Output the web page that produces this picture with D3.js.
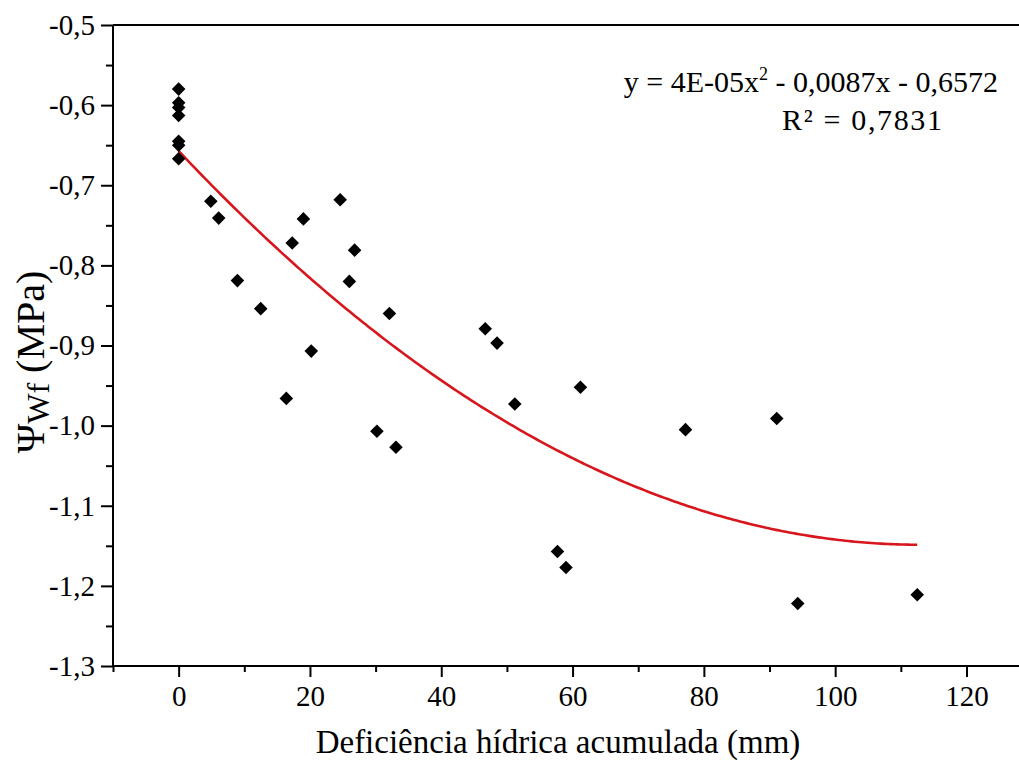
<!DOCTYPE html>
<html>
<head>
<meta charset="utf-8">
<script src="https://cdn.jsdelivr.net/npm/d3@7"></script>
<style>
  html, body { margin: 0; padding: 0; background: #fff; }
  svg { display: block; }
  text { font-family: "Liberation Serif", "Times New Roman", serif; fill: #000; }
</style>
</head>
<body>
<svg id="chart" width="1019" height="760"></svg>
<script>
// Data
const deficitX = [0, 0, 0, 0, 0, 0, 0, 4.9, 6.1, 8.95, 12.5, 16.4, 17.3, 19.0, 20.2,
  24.6, 26.0, 26.8, 30.2, 32.1, 33.1, 46.7, 48.5, 51.2, 57.7, 59.0, 61.2, 77.2, 91.1, 94.3, 112.5];
const psiY = [-0.580, -0.597, -0.603, -0.613, -0.645, -0.650, -0.667, -0.720, -0.741, -0.819, -0.854, -0.966, -0.772, -0.742, -0.907,
  -0.718, -0.820, -0.781, -1.007, -0.860, -1.027, -0.879, -0.897, -0.973, -1.157, -1.177, -0.952, -1.005, -0.991, -1.222, -1.211];

// Trend line coefficients (quadratic fit)
const fitCoef = { a: 0.0000385, b: -0.0087, c: -0.6572 };
const fitRange = [0, 112.5];

const xTicks = [0, 20, 40, 60, 80, 100, 120];
const xTickLabels = ["0", "20", "40", "60", "80", "100", "120"];
const xMinorTicks = [-10, 10, 30, 50, 70, 90, 110];
const yTicks = [-0.5, -0.6, -0.7, -0.8, -0.9, -1.0, -1.1, -1.2, -1.3];
const yTickLabels = ["-0,5", "-0,6", "-0,7", "-0,8", "-0,9", "-1,0", "-1,1", "-1,2", "-1,3"];
const yMinorTicks = [-0.55, -0.65, -0.75, -0.85, -0.95, -1.05, -1.15, -1.25];

const xTitle = "Deficiência hídrica acumulada (mm)";
const eqText1 = "y = 4E-05x";
const eqText2 = " - 0,0087x - 0,6572";
const r2Text = "R² = 0,7831";

const svg = d3.select("#chart");
const pL = 113, pR = 1019, pT = 25, pB = 666;

const x = d3.scaleLinear().domain([-10, 128]).range([pL, pR]);
const y = d3.scaleLinear().domain([-1.3, -0.5]).range([pB, pT]);

// top frame line
svg.append("line").attr("x1", pL).attr("x2", pR).attr("y1", pT).attr("y2", pT)
  .attr("stroke", "#000").attr("stroke-width", 2);

// x axis
const xAxis = svg.append("g").attr("transform", `translate(0,${pB})`)
  .call(d3.axisBottom(x).tickValues(xTicks).tickSize(11).tickPadding(8)
    .tickFormat((d, i) => xTickLabels[i]));
xAxis.select(".domain").attr("stroke-width", 2).attr("d", `M${pL},0H${pR}`);
xAxis.selectAll(".tick line").attr("stroke-width", 2);
xAxis.selectAll("text").attr("font-size", 29).attr("font-family", "Liberation Serif");
const xMinor = svg.append("g").attr("transform", `translate(0,${pB})`)
  .call(d3.axisBottom(x).tickValues(xMinorTicks).tickSize(6).tickFormat(""));
xMinor.select(".domain").remove();
xMinor.selectAll(".tick line").attr("stroke-width", 2);

// y axis
const yAxis = svg.append("g").attr("transform", `translate(${pL},0)`)
  .call(d3.axisLeft(y).tickValues(yTicks).tickSize(12).tickPadding(6)
    .tickFormat((d, i) => yTickLabels[i]));
yAxis.select(".domain").attr("stroke-width", 2).attr("d", `M0,${pT}V${pB}`);
yAxis.selectAll(".tick line").attr("stroke-width", 2);
yAxis.selectAll("text").attr("font-size", 29).attr("font-family", "Liberation Serif");
const yMinor = svg.append("g").attr("transform", `translate(${pL},0)`)
  .call(d3.axisLeft(y).tickValues(yMinorTicks).tickSize(7).tickFormat(""));
yMinor.select(".domain").remove();
yMinor.selectAll(".tick line").attr("stroke-width", 2);

// fit curve
const curveX = d3.range(fitRange[0], fitRange[1] + 0.001, 0.5);
const line = d3.line()
  .x(d => x(d))
  .y(d => y(fitCoef.a * d * d + fitCoef.b * d + fitCoef.c));
svg.append("path").datum(curveX).attr("d", line)
  .attr("fill", "none").attr("stroke", "#d7161e").attr("stroke-width", 2.6);

// points (diamonds)
const pts = deficitX.map((d, i) => [d, psiY[i]]);
svg.append("g").selectAll("rect").data(pts).join("rect")
  .attr("x", -4.8).attr("y", -4.8).attr("width", 9.6).attr("height", 9.6)
  .attr("transform", d => `translate(${x(d[0])},${y(d[1])}) rotate(45)`)
  .attr("fill", "#000");

// equation
const eq = svg.append("text").attr("x", 998).attr("y", 92).attr("text-anchor", "end")
  .attr("font-size", 30);
eq.append("tspan").text(eqText1);
eq.append("tspan").attr("font-size", 18).attr("dy", -12).text("2");
eq.append("tspan").attr("dy", 12).text(eqText2);
svg.append("text").attr("x", 782).attr("y", 130).attr("text-anchor", "start")
  .attr("font-size", 30).attr("textLength", 160).attr("lengthAdjust", "spacing").text(r2Text);

// x title
svg.append("text").attr("x", 558).attr("y", 753).attr("text-anchor", "middle")
  .attr("font-size", 33).text(xTitle);

// y title
const yt = svg.append("text").attr("transform", "translate(44,362) rotate(-90)")
  .attr("text-anchor", "middle").attr("font-size", 40);
yt.append("tspan").text("Ψ");
yt.append("tspan").attr("font-size", 32).attr("dy", 5).text("Wf");
yt.append("tspan").attr("dy", -5).text(" (MPa)");
</script>
</body>
</html>
